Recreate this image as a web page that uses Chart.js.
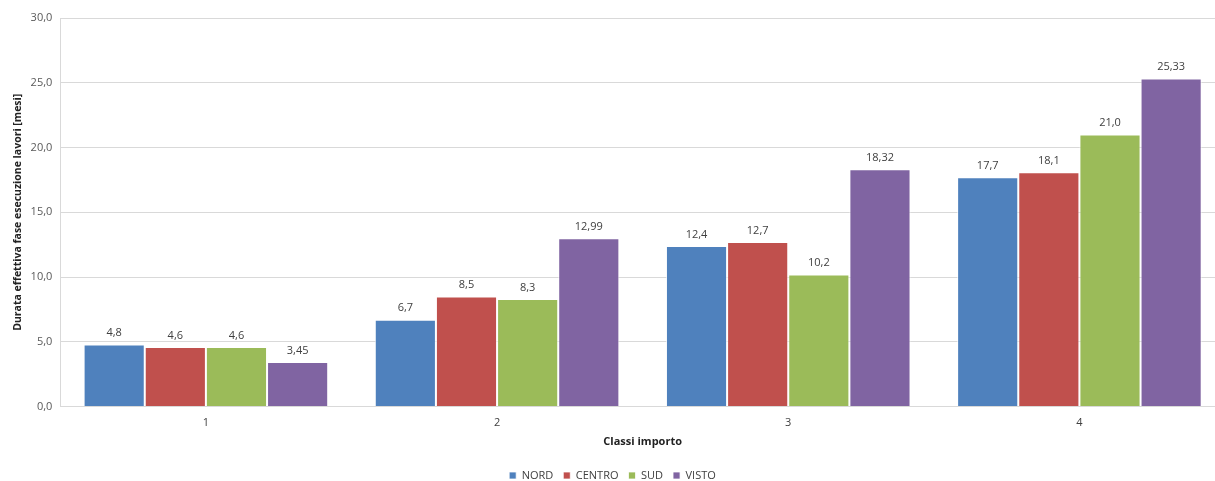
<!DOCTYPE html>
<html>
<head>
<meta charset="utf-8">
<script src="https://cdn.jsdelivr.net/npm/chart.js@4/dist/chart.umd.min.js"></script>
<style>
  html, body { margin: 0; padding: 0; background: #fff; overflow: hidden; }
  #wrap { width: 1215px; height: 481px; overflow: hidden; }
  #wrap canvas { display: block; }
</style>
</head>
<body>
<div id="wrap"><canvas id="chart-container" width="1225" height="481"></canvas></div>
<script>
// values
const classi = ['1', '2', '3', '4'];
const nord   = [4.8, 6.7, 12.4, 17.7];
const centro = [4.6, 8.5, 12.7, 18.1];
const sud    = [4.6, 8.3, 10.2, 21.0];
const visto  = [3.45, 12.99, 18.32, 25.33];
// decimals shown on the labels of each series
const decimali = [1, 1, 1, 2];

function virgola(v, d) {
    return v.toFixed(d).replace('.', ',');
}

// draws the value above each bar, using the bar positions from the scales
const etichette = {
    id: 'etichette',
    afterDatasetsDraw(chart) {
        const ctx = chart.ctx;
        ctx.save();
        ctx.font = '11px "Open Sans", sans-serif';
        ctx.fillStyle = '#404040';
        ctx.textAlign = 'center';
        ctx.textBaseline = 'bottom';
        chart.data.datasets.forEach((ds, i) => {
            chart.getDatasetMeta(i).data.forEach((bar, j) => {
                ctx.fillText(virgola(ds.data[j], decimali[i]), bar.x, bar.y - 6);
            });
        });
        ctx.restore();
    }
};

function build_chart() {
    const canv = document.querySelector('#chart-container');
    const serie = [
        { label: 'NORD',   data: nord,   backgroundColor: '#4F81BD' },
        { label: 'CENTRO', data: centro, backgroundColor: '#C0504D' },
        { label: 'SUD',    data: sud,    backgroundColor: '#9BBB59' },
        { label: 'VISTO',  data: visto,  backgroundColor: '#8064A2' }
    ];
    serie.forEach((s) => {
        s.borderColor = 'rgba(255,255,255,0.75)';
        s.borderWidth = 1;
        s.categoryPercentage = 0.84;
        s.barPercentage = 1.0;
    });

    new Chart(canv, {
        type: 'bar',
        data: { labels: classi, datasets: serie },
        plugins: [etichette],
        options: {
            responsive: false,
            animation: false,
            // negative bottom padding: the legend adds 10px of its own below the labels
            layout: { padding: { top: 18, right: 0, left: 0, bottom: -10 } },
            plugins: {
                tooltip: { enabled: false },
                legend: {
                    position: 'bottom',
                    labels: {
                        boxWidth: 7,
                        boxHeight: 7,
                        padding: 10,
                        color: '#404040',
                        font: { family: '"Open Sans", sans-serif', size: 11 }
                    }
                }
            },
            scales: {
                x: {
                    grid: { display: false, drawTicks: false },
                    border: { color: '#d9d9d9' },
                    ticks: {
                        color: '#404040',
                        padding: 10,
                        font: { family: '"Open Sans", sans-serif', size: 11 }
                    },
                    title: {
                        display: true,
                        text: 'Classi importo',
                        color: '#222',
                        padding: { top: -5, bottom: 12 },
                        font: { family: '"Open Sans", sans-serif', size: 11, weight: 'bold' }
                    }
                },
                y: {
                    min: 0,
                    max: 30,
                    grid: { color: '#d9d9d9', drawTicks: false },
                    border: { color: '#d9d9d9' },
                    ticks: {
                        stepSize: 5,
                        padding: 8,
                        color: '#595959',
                        font: { family: '"Open Sans", sans-serif', size: 11 },
                        callback: (v) => virgola(v, 1)
                    },
                    title: {
                        display: true,
                        text: 'Durata effettiva fase esecuzione lavori [mesi]',
                        color: '#222',
                        padding: { top: 12, bottom: -2 },
                        font: { family: '"Open Sans", sans-serif', size: 10.5, weight: 'bold' }
                    }
                }
            }
        }
    });
}

build_chart();
</script>
</body>
</html>
